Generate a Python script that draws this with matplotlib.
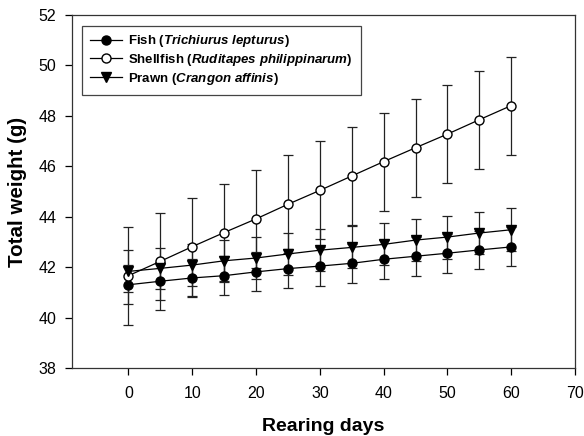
import matplotlib
matplotlib.use("Agg")
import matplotlib.pyplot as plt
import numpy as np

plt.rcParams['font.family'] = 'Liberation Sans'
plt.rcParams['mathtext.fontset'] = 'custom'
plt.rcParams['mathtext.it'] = 'Liberation Sans:italic:bold'
plt.rcParams['mathtext.rm'] = 'Liberation Sans:bold'

# data
days = [0, 5, 10, 15, 20, 25, 30, 35, 40, 45, 50, 55, 60]

fish = [41.31, 41.45, 41.58, 41.67, 41.82, 41.95, 42.05, 42.16, 42.32, 42.44, 42.56, 42.69, 42.81]
fish_err = [0.77, 0.76, 0.77, 0.76, 0.77, 0.77, 0.77, 0.77, 0.77, 0.77, 0.77, 0.77, 0.77]

shell = [41.67, 42.24, 42.82, 43.38, 43.92, 44.50, 45.05, 45.62, 46.19, 46.74, 47.28, 47.85, 48.41]
shell_err = [1.94, 1.93, 1.94, 1.94, 1.94, 1.94, 1.94, 1.94, 1.94, 1.94, 1.95, 1.94, 1.94]

prawn = [41.84, 41.96, 42.09, 42.26, 42.37, 42.53, 42.68, 42.79, 42.91, 43.08, 43.20, 43.36, 43.49]
prawn_err = [0.83, 0.82, 0.83, 0.83, 0.83, 0.83, 0.83, 0.83, 0.83, 0.83, 0.85, 0.82, 0.85]

labels = [r'Fish ($\mathit{Trichiurus}$ $\mathit{lepturus}$)',
          r'Shellfish ($\mathit{Ruditapes}$ $\mathit{philippinarum}$)',
          r'Prawn ($\mathit{Crangon}$ $\mathit{affinis}$)']

fig = plt.figure(figsize=(5.84, 4.36), dpi=100)
ax = fig.add_axes([0.1228, 0.1553, 0.8618, 0.8103])

common = dict(color='black', lw=0.9, ms=6.5, capsize=3.8, elinewidth=0.9,
              ecolor='#222222', capthick=0.9)
e1 = ax.errorbar(days, fish, yerr=fish_err, marker='o', mfc='black', mec='black', **common)
e2 = ax.errorbar(days, shell, yerr=shell_err, marker='o', mfc='white', mec='black', **common)
e3 = ax.errorbar(days, prawn, yerr=prawn_err, marker='v', mfc='black', mec='black', **common)

ax.set_xlim(-8.9, 70)
ax.set_ylim(38, 52)
ax.set_xticks(range(0, 71, 10))
ax.set_yticks(range(38, 53, 2))
ax.tick_params(direction='out', length=5, width=0.9, labelsize=11.5)
ax.tick_params(axis='x', pad=8)
ax.tick_params(axis='y', pad=6)
for s in ax.spines.values():
    s.set_linewidth(0.9)
    s.set_color('#333333')

ax.set_xlabel('Rearing days', fontsize=14, fontweight='bold', labelpad=12)
ax.set_ylabel('Total weight (g)', fontsize=14.8, fontweight='bold', labelpad=8)

leg = ax.legend([e1[0], e2[0], e3[0]], labels, loc='upper left',
                prop={'weight': 'bold', 'size': 9.5},
                fancybox=False, edgecolor='#444444', framealpha=1,
                handlelength=2.4, handletextpad=0.5, labelspacing=0.2,
                borderpad=0.6, borderaxespad=0.8)
leg.get_frame().set_linewidth(0.9)

fig.savefig('out.png', dpi=100)
